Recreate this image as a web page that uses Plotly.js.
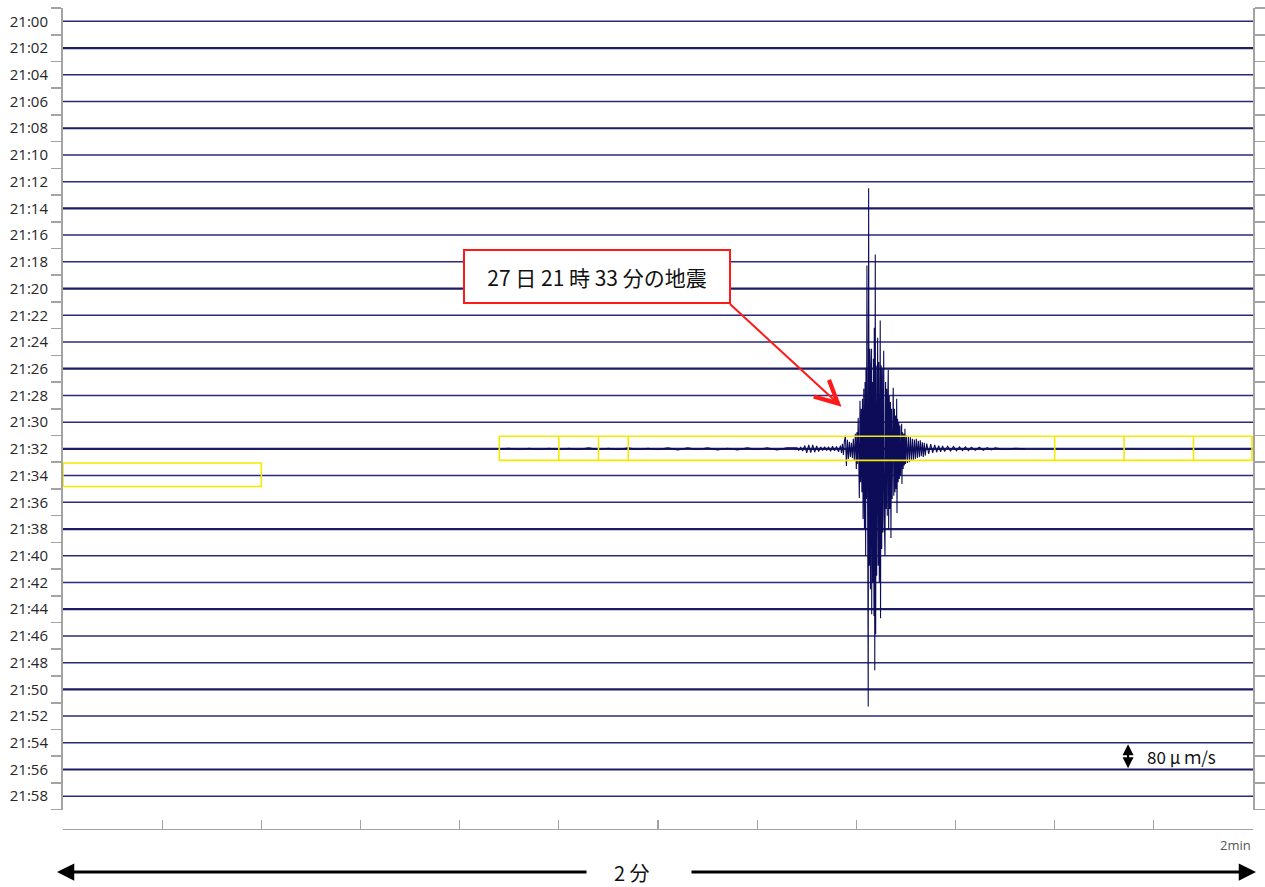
<!DOCTYPE html>
<html>
<head>
<meta charset="utf-8">
<script src="https://cdn.plot.ly/plotly-3.0.1.min.js"></script>
<style>html,body{margin:0;padding:0;background:#fff;}#chart{width:1265px;height:887px;}</style>
</head>
<body>
<div id="chart"></div>
<script>
// Trace start times (one seismogram line every 2 minutes)
const tickLabels = ['21:00','21:02','21:04','21:06','21:08','21:10','21:12','21:14','21:16','21:18',
  '21:20','21:22','21:24','21:26','21:28','21:30','21:32','21:34','21:36','21:38',
  '21:40','21:42','21:44','21:46','21:48','21:50','21:52','21:54','21:56','21:58'];
// seconds within each 2-minute line
const lineStart = 0;
const lineEnd = 120;
const xTickSeconds = [0,10,20,30,40,50,60,70,80,90,100,110,120];
// earthquake record on the 21:32 line (index 16): time in s, velocity in μm/s
const quakeLine = 16;
const scaleUmPerLine = 80;
const waveTime = [
  44,45,46,47,48,49,50,51,52,53,54,55,56,57,58,59,60,61,62,63,64,65,66,67,68,69,70,71,72,73,
  74.0,74.2,74.4,74.6,74.8,75.0,75.2,75.4,75.6,75.8,76.0,76.2,76.4,76.6,76.8,77.0,77.2,77.4,77.6,77.8,78.0,78.2,
  78.4,78.5,78.6,78.7,78.8,78.9,79.0,79.1,79.2,79.3,79.4,79.5,79.6,79.7,79.8,79.9,80.0,80.05,
  80.10,80.15,80.19,80.25,80.30,80.37,80.43,80.50,80.56,80.62,80.68,80.75,80.82,80.88,80.94,80.97,
  81.02,81.07,81.13,81.20,81.24,81.30,81.36,81.42,81.48,81.53,81.55,81.60,81.66,81.72,81.78,81.81,
  81.86,81.91,81.95,82.00,82.05,82.10,82.15,82.20,82.26,82.32,82.36,82.41,82.44,82.50,82.56,82.62,
  82.68,82.76,82.82,82.89,82.95,83.00,83.06,83.12,83.17,83.22,83.26,83.32,83.38,83.44,83.49,83.55,
  83.61,83.66,83.72,83.78,83.84,83.90,83.96,84.02,84.07,84.10,84.16,84.22,84.28,84.34,84.40,84.46,
  84.52,84.57,84.60,84.66,84.72,84.78,84.84,84.90,84.96,85.05,85.15,85.25,85.35,85.45,85.55,85.65,
  85.75,85.85,85.95,86.05,86.15,86.25,86.35,86.45,86.55,86.65,86.75,86.85,86.95,87.1,87.3,87.5,
  87.7,87.9,88.1,88.3,88.5,88.7,88.9,89.2,89.5,89.8,90.1,90.4,90.7,91.0,91.3,91.6,92.0,92.4,
  92.8,93.2,93.6,94.0,95,96,97];
const waveAmp = [
  0,2,-2,2,-2,2,-2,2,-2,3,-2,2,-2,3,-2,2,-2,3,-3,3,-2,3,-3,2,-3,3,-2,3,-3,3,
  3,-4,5,-6,10,-12,12,-11,12,-10,9,-8,6,-5,6,-5,6,-7,8,-6,7,-9,
  10,-12,15,-18,24,39,-51,27,-30,21,-24,18,-27,30,-36,45,-60,50,
  -45,30,93,-40,-147,144,-100,120,-130,150,-210,180,-240,200,-321,243,
  -150,549,-400,-771,780,-350,300,-420,250,300,-495,200,-400,270,-500,363,
  -663,582,-555,250,-380,280,333,-350,260,-400,300,384,-507,250,-300,240,
  -250,294,-200,-321,200,-180,180,-200,150,237,-240,160,-180,140,-267,120,
  -150,110,183,-140,120,-130,100,-120,150,-192,90,-100,80,-90,70,-80,
  60,75,-105,50,-60,45,-50,60,-45,40,-42,36,-40,35,-33,30,
  -36,28,-30,30,-27,24,-25,26,-22,20,-24,18,-20,16,-15,14,
  -12,12,-10,10,-9,9,-8,8,-6,7,-6,6,-5,6,-5,5,-4,5,
  -4,4,-3,3,-2,2,0];

const axisGray = '#a3a3a3';

const traces = [];
tickLabels.forEach((lab, i) => {
  const heavy = (i % 3 === 1);
  traces.push({
    x: [lineStart, lineEnd], y: [i, i], mode: 'lines', hoverinfo: 'skip', showlegend: false,
    line: {color: heavy ? '#1d1d66' : '#2a2a78', width: heavy ? 2.2 : 1.5}
  });
});
traces.push({
  x: waveTime, y: waveAmp.map(a => quakeLine - a / scaleUmPerLine),
  mode: 'lines', hoverinfo: 'skip', showlegend: false,
  line: {color: '#0c0c58', width: 1.1}
});
// keeps the right-hand axis alive
traces.push({x: [lineStart], y: [0], yaxis: 'y2', mode: 'lines', hoverinfo: 'skip', showlegend: false, line: {width: 0}});

const halfTicks = [];
for (let i = 0; i <= tickLabels.length; i++) halfTicks.push(i - 0.5);
const yRange = [tickLabels.length - 0.5, -0.5];

const W = 1265, H = 887, ML = 63, MR = 12, MT = 8, MB = 58;
const plotH = H - MT - MB;
const plotW = W - ML - MR;
const domBottom = (H - MB - 809.6) / plotH;
const py = px => (H - MB - px) / plotH;      // paper y from pixel row
const pxx = px => (px - ML) / plotW;         // paper x from pixel column

const yellow = '#f2ea00';
const shapes = [];
function box(x0, x1, y0, y1) {
  shapes.push({type: 'rect', xref: 'x', yref: 'y', x0, x1, y0, y1, layer: 'above', line: {color: yellow, width: 1.6}});
}
function vline(x, y0, y1) {
  shapes.push({type: 'line', xref: 'x', yref: 'y', x0: x, x1: x, y0, y1, layer: 'above', line: {color: yellow, width: 1.6}});
}
box(0, 20, 16.53, 17.41);
box(44, 119.9, 15.53, 16.43);
[50, 54, 57, 100, 107, 114].forEach(x => vline(x, 15.53, 16.43));

const cjk = '"Noto Sans CJK JP", "Noto Sans", sans-serif';
const annotations = [
  {xref: 'x', yref: 'y', x: 53.85, y: 9.53, text: '27 日 21 時 33 分の地震', showarrow: false,
   font: {family: cjk, size: 21, color: '#111'}, bgcolor: '#ffffff', bordercolor: '#ff1a1a', borderwidth: 2,
   borderpad: 0, width: 264, height: 51},
  {xref: 'x', yref: 'y', x: 78.5, y: 14.42, ax: -113, ay: -104, text: '', showarrow: true,
   arrowhead: 5, arrowwidth: 2, arrowsize: 2.2, arrowcolor: '#ff1a1a'},
  {xref: 'x', yref: 'y', x: 107.4, y: 27.05, ax: 0, ay: 14, text: '', showarrow: true,
   arrowhead: 2, arrowwidth: 2, arrowsize: 1.1, arrowcolor: '#000'},
  {xref: 'x', yref: 'y', x: 107.4, y: 27.95, ax: 0, ay: -14, text: '', showarrow: true,
   arrowhead: 2, arrowwidth: 2, arrowsize: 1.1, arrowcolor: '#000'},
  {xref: 'x', yref: 'y', x: 109.1, y: 27.5, xanchor: 'left', yanchor: 'middle', text: '80 μ ｍ/s', showarrow: false,
   font: {family: cjk, size: 17, color: '#111'}},
  {xref: 'paper', yref: 'paper', x: 1, y: py(845), xanchor: 'right', yanchor: 'middle', text: '2min', showarrow: false,
   font: {family: '"Open Sans", sans-serif', size: 13, color: '#555'}},
  {xref: 'paper', yref: 'paper', x: pxx(632), y: py(872), xanchor: 'center', yanchor: 'middle', text: '2 分', showarrow: false,
   font: {family: cjk, size: 20, color: '#111'}},
  {xref: 'paper', yref: 'paper', x: pxx(57), y: py(872), ax: 531, ay: 0, text: '', showarrow: true,
   arrowhead: 2, arrowwidth: 3, arrowsize: 1.15, arrowcolor: '#000'},
  {xref: 'paper', yref: 'paper', x: pxx(1256), y: py(872), ax: -566, ay: 0, text: '', showarrow: true,
   arrowhead: 2, arrowwidth: 3, arrowsize: 1.15, arrowcolor: '#000'}
];

const layout = {
  width: W, height: H,
  margin: {l: ML, r: MR, t: MT, b: MB, pad: 0},
  paper_bgcolor: '#ffffff', plot_bgcolor: '#ffffff',
  showlegend: false, hovermode: false,
  xaxis: {
    range: [lineStart, lineEnd], anchor: 'free', position: 0,
    showgrid: false, zeroline: false, showline: true, linecolor: axisGray, linewidth: 1.3,
    ticks: 'inside', ticklen: 9, tickwidth: 1.3, tickcolor: axisGray,
    tickmode: 'array', tickvals: xTickSeconds, showticklabels: false
  },
  yaxis: {
    range: yRange, domain: [domBottom, 1],
    showgrid: false, zeroline: false, showline: true, linecolor: axisGray, linewidth: 2,
    tickmode: 'array', tickvals: tickLabels.map((_, i) => i), ticktext: tickLabels,
    ticks: 'outside', ticklen: 10, tickcolor: 'rgba(0,0,0,0)', ticklabelstandoff: 0,
    tickfont: {family: '"Open Sans", sans-serif', size: 15, color: '#262626'},
    minor: {tickmode: 'array', tickvals: halfTicks, ticks: 'outside', ticklen: 10, tickwidth: 1.6, tickcolor: axisGray, showgrid: false}
  },
  yaxis2: {
    range: yRange, domain: [domBottom, 1], overlaying: 'y', side: 'right', anchor: 'x',
    showgrid: false, zeroline: false, showline: true, linecolor: axisGray, linewidth: 2,
    tickmode: 'array', tickvals: [], showticklabels: false,
    minor: {tickmode: 'array', tickvals: halfTicks, ticks: 'outside', ticklen: 10, tickwidth: 1.6, tickcolor: axisGray, showgrid: false}
  },
  shapes, annotations
};

Plotly.newPlot('chart', traces, layout, {staticPlot: true, displayModeBar: false});
</script>
</body>
</html>
